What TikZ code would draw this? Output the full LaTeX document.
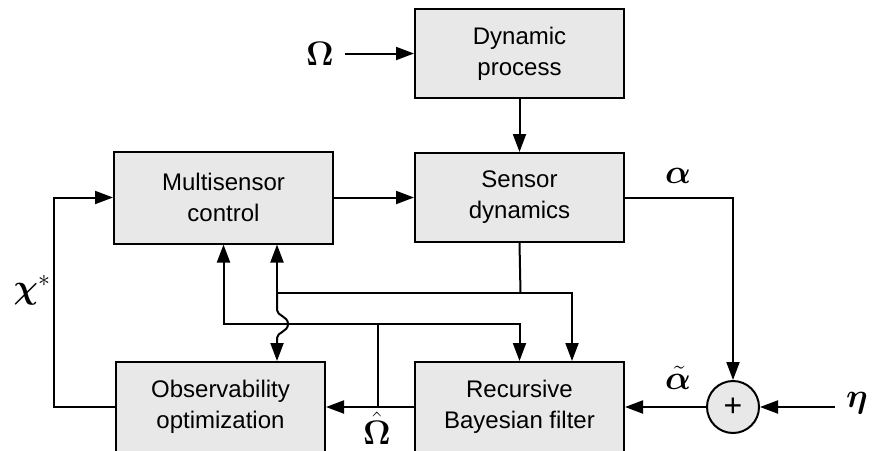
\RequirePackage{fix-cm}
\documentclass[tikz,border=0pt]{standalone}
\usepackage{amsmath,amssymb,bm}
\usepackage{fontspec}
\setmainfont{Liberation Sans}
\usepackage{tikz}
\usetikzlibrary{arrows.meta,positioning}
\definecolor{BoxFill}{HTML}{E8E8E8}

\begin{document}
\begin{tikzpicture}[x=1pt,y=-1pt,line width=2pt,>={Triangle[length=18pt,width=13pt]},
  every node/.style={align=center},
  blk/.style={draw,fill=BoxFill,inner sep=0pt,minimum width=209pt,minimum height=89pt,font=\fontsize{24}{31}\selectfont},
  sym/.style={inner sep=0pt,font=\fontsize{34}{40}\selectfont}]
  \useasboundingbox (0,0) rectangle (872,450);
  \node[blk] (dyn) at (519.5,53.5) {Dynamic\\process};
  \node[blk,below=53pt of dyn] (sens) {Sensor\\dynamics};
  \node[blk,left=80pt of sens,minimum width=219pt,minimum height=92pt] (msc) {Multisensor\\control};
  \node[blk,below=118pt of sens,minimum height=90pt] (rbf) {Recursive\\Bayesian filter};
  \node[blk,left=88pt of rbf,minimum height=90pt] (obs) {Observability\\optimization};
  \node[draw,circle,fill=BoxFill,minimum size=52pt,inner sep=0pt,right=81pt of rbf,font=\fontsize{32}{36}\selectfont] (sum) {+};
  \node[sym] (om) at (320,53.5) {$\bm{\Omega}$};
  \node[sym] (eta) at (857,403) {$\bm{\eta}$};
  \node[sym] (al) at (678,176) {$\bm{\alpha}$};
  \node[sym] (alt) at (678,378) {$\tilde{\bm{\alpha}}$};
  \node[sym] (omh) at (377,428) {$\hat{\bm{\Omega}}$};
  \node[sym] (chi) at (32,290) {$\bm{\chi}^{*}$};
  \coordinate (etal) at ([xshift=-10pt]eta.west);
  \coordinate (sj) at (520.5,293);
  \coordinate (lj) at (277,293);
  \coordinate (rj) at (572,293);
  \coordinate (ou) at (378,324);
  % forward path
  \draw[->] ([xshift=10pt]om.east) -- (dyn.west);
  \draw[->] (dyn) -- (sens);
  \draw[->] (msc) -- (sens);
  \draw[->] (sens.east) -| (sum.north);
  \draw[->] (etal |- sum.east) -- (sum.east);
  \draw[->] (sum.west) -- (rbf.east);
  \draw[->] (rbf.west) -- (obs.east);
  \draw[->] (obs.west) -- ++(-61,0) |- (msc.west);
  % feedback lines
  \draw (sens.south) -- (sj);
  \draw[->] (lj) -- (rj) -- (rj |- rbf.north);
  \draw[->] (lj) -- (lj |- msc.south);
  \draw[->] (lj) -- ++(0,17) .. controls ++(0,6) and ++(0,-8) .. ++(11,14) .. controls ++(0,8) and ++(0,-6) .. ++(-11,14) -- (lj |- obs.north);
  \draw[->] (ou |- rbf.west) -- (ou) -| (msc.south);
  \draw[->] (ou) -| (rbf.north);
\end{tikzpicture}
\end{document}
